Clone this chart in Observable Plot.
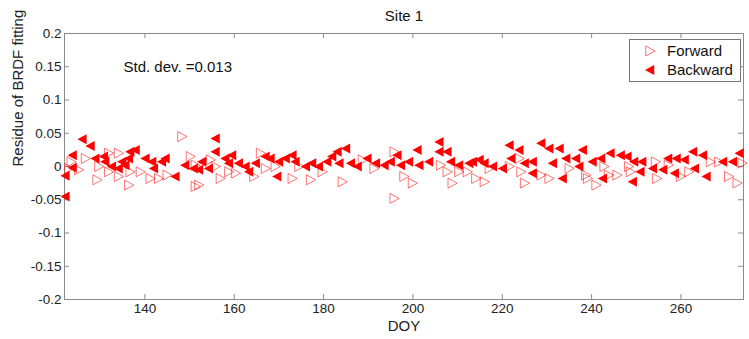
<!DOCTYPE html>
<html><head><meta charset="utf-8">
<script src="https://cdn.jsdelivr.net/npm/d3@7"></script>
<script src="https://cdn.jsdelivr.net/npm/@observablehq/plot@0.6"></script>
<style>body{margin:0;background:#fff;} svg{display:block;}</style>
</head><body><div id="chart"></div>
<script>
const titleText = "Site 1";
const xLabel = "DOY";
const yLabel = "Residue of BRDF fitting";
const stdText = "Std. dev. =0.013";
const seriesNames = ["Forward", "Backward"];
const xTicks = [140, 160, 180, 200, 220, 240, 260];
const yTicks = [-0.2, -0.15, -0.1, -0.05, 0, 0.05, 0.1, 0.15, 0.2];
const xDomain = [122, 274];
const yDomain = [-0.2, 0.2];

const forwardDoy = [123, 123.5, 125.2, 126.7, 129.3, 129.7, 131.9, 131.9, 134.1, 134.1, 136.4, 136.7, 139, 141.2, 143.1, 145, 148.3, 150.2, 151.3, 151.3, 152.1, 154.7, 155.8, 156.9, 158.8, 160.3, 164.4, 165.9, 167, 169.2, 173, 174.5, 177.1, 179.7, 184.2, 188.7, 191.3, 195.8, 195.8, 198, 199.9, 206.2, 207.7, 208.8, 210.3, 212.2, 214.1, 216, 217.1, 221.6, 223.8, 224.2, 225, 228.7, 230.5, 235, 238.7, 239.1, 241, 242.8, 243.8, 245.7, 248.3, 248.7, 254.3, 254.6, 257.2, 259.9, 261.8, 266.6, 268.5, 270.7, 272.6, 273.7];
const forwardRes = [-0.003, 0.007, -0.005, 0.012, -0.02, 0, 0.02, -0.008, 0.02, -0.015, -0.028, -0.008, -0.008, -0.018, -0.018, -0.013, 0.045, 0.015, 0.002, -0.03, -0.028, 0.01, 0, -0.018, -0.008, -0.01, -0.015, 0.02, -0.003, 0, -0.018, 0, -0.02, -0.008, -0.023, 0.01, -0.003, 0.022, -0.048, -0.015, -0.025, 0.002, -0.008, -0.025, -0.008, -0.008, -0.018, -0.023, -0.003, 0, 0.012, -0.008, -0.025, -0.013, -0.018, -0.003, -0.013, -0.018, -0.028, 0, -0.013, -0.013, 0, -0.008, 0.007, -0.018, 0.002, -0.015, -0.008, 0.007, 0.007, -0.015, -0.025, 0.005];

const backwardDoy = [122.2, 122.2, 123.8, 123.8, 126, 127.8, 128.9, 130.8, 131.1, 132.6, 134.1, 134.9, 135.6, 136.4, 136.7, 137.9, 140.1, 141.6, 142, 143.8, 144.6, 146.8, 149, 150.9, 152.1, 152.8, 154.3, 155.8, 155.8, 158, 158.8, 159.5, 161, 162.5, 163.3, 164.8, 167, 168.1, 169.6, 170, 171.5, 173, 173.7, 176, 177.4, 178.9, 180.8, 181.9, 183.1, 183.5, 185, 186.1, 187.6, 189.8, 191.7, 193.6, 195, 196.5, 197.3, 199.1, 201, 201.4, 203.6, 205.9, 205.9, 207.7, 208.5, 210.3, 212.6, 213.4, 214.9, 216, 217.9, 220.1, 221.6, 222, 223.8, 225, 226.8, 226.8, 228.7, 230.5, 231.3, 232.8, 233.5, 234.3, 236.5, 237.2, 238, 240.2, 242.1, 242.5, 244.2, 246.5, 248, 249.2, 249.5, 250.9, 251.3, 253.7, 256, 257.1, 258.6, 259, 260.8, 262.7, 263.1, 264.9, 265.7, 269.4, 271.6, 273.1];
const backwardRes = [-0.045, -0.014, 0.017, -0.002, 0.041, 0.031, 0.012, 0.015, 0.007, 0, -0.003, 0.007, 0.002, 0.012, 0.022, 0.025, 0.012, 0.007, -0.003, 0.007, 0.012, -0.015, 0.002, -0.003, -0.005, 0.007, -0.003, 0.042, 0.022, 0.012, 0.005, 0.017, 0.005, 0, -0.008, 0.005, 0.015, 0.012, -0.015, 0.007, 0.012, 0.017, 0.007, 0, 0.005, 0, 0.007, 0.015, 0.022, 0.005, 0.027, 0.005, 0, 0.012, 0.005, 0.002, 0.007, 0.017, 0.002, 0.007, 0.025, 0.002, 0.007, 0.037, 0.022, 0.022, 0.007, 0.002, 0.005, 0.007, 0.01, 0.005, 0, -0.003, 0.032, 0.012, 0.025, 0.005, 0.007, -0.01, 0.035, 0.027, 0.005, 0.027, -0.018, 0.012, 0.012, 0, 0.025, 0.007, 0.012, -0.018, 0.02, 0.017, 0.015, -0.023, 0.007, -0.008, 0.007, -0.003, -0.005, 0.012, -0.01, 0.012, 0.01, 0.022, -0.003, 0.017, -0.015, 0.007, 0.007, 0.02];

const W = 749, H = 339, mL = 64, mR = 6, mT = 33, mB = 40;
const pw = W - mL - mR, ph = H - mT - mB;
const axisGrey = "#8a8a8a";
const font = "'Liberation Sans', Arial, sans-serif";
const markR = 5;

const forward = forwardDoy.map((d, i) => ({doy: d, res: forwardRes[i]}));
const backward = backwardDoy.map((d, i) => ({doy: d, res: backwardRes[i]}));

function triPath(ctx, r, dir) {
  ctx.moveTo(dir * r, 0);
  ctx.lineTo(-dir * r * 0.85, -r);
  ctx.lineTo(-dir * r * 0.85, r);
  ctx.closePath();
}
const triRight = {draw(ctx, size) { triPath(ctx, Math.sqrt(size / Math.PI), 1); }};
const triLeft = {draw(ctx, size) { triPath(ctx, Math.sqrt(size / Math.PI), -1); }};

const svg = Plot.plot({
  width: W, height: H,
  marginLeft: mL, marginRight: mR, marginTop: mT, marginBottom: mB,
  style: {fontFamily: font, fontSize: "13.5px", color: "#222", background: "#fff"},
  x: {domain: xDomain, ticks: xTicks, tickSize: 0, tickPadding: 4, label: null},
  y: {domain: yDomain, ticks: yTicks, tickSize: 0, tickPadding: 3, label: null, tickFormat: d => String(d)},
  marks: [
    Plot.frame({stroke: axisGrey}),
    Plot.tickY(yTicks, {y: d => d, insetRight: pw - 5, stroke: axisGrey}),
    Plot.tickY(yTicks, {y: d => d, insetLeft: pw - 5, stroke: axisGrey}),
    Plot.tickX(xTicks, {x: d => d, insetTop: ph - 5, stroke: axisGrey}),
    Plot.tickX(xTicks, {x: d => d, insetBottom: ph - 5, stroke: axisGrey}),
    Plot.dot(forward, {x: "doy", y: "res", symbol: triRight, r: markR, fill: "none", stroke: "#ff0000", strokeOpacity: 0.55, strokeWidth: 1}),
    Plot.dot(backward, {x: "doy", y: "res", symbol: triLeft, r: markR, fill: "#ff0000", stroke: "none"}),
    Plot.text([titleText], {text: d => d, frameAnchor: "top", dy: -23, fontSize: 15, fill: "#111"}),
    Plot.text([xLabel], {text: d => d, frameAnchor: "bottom", dy: 31, fontSize: 15, fill: "#222"}),
    Plot.text([yLabel], {text: d => d, frameAnchor: "left", dx: -46, rotate: -90, fontSize: 15, fill: "#222"}),
    Plot.text([stdText], {text: d => d, frameAnchor: "top-left", dx: 59, dy: 28, textAnchor: "start", fontSize: 15, fill: "#111"})
  ]
});

// legend box (MATLAB style, inside top-right corner)
const lg = d3.select(svg).append("g").attr("font-family", font).attr("font-size", 15).attr("text-anchor", "start");
lg.append("rect").attr("x", 629.5).attr("y", 39.5).attr("width", 111).attr("height", 42)
  .attr("fill", "#fff").attr("stroke", "#777");
const legendItems = [
  {name: seriesNames[0], sym: triRight, fill: "none", stroke: "#ff0000", op: 0.55, y: 51},
  {name: seriesNames[1], sym: triLeft, fill: "#ff0000", stroke: "none", op: 1, y: 70}
];
legendItems.forEach(it => {
  lg.append("path").attr("transform", `translate(650,${it.y})`)
    .attr("d", d3.symbol(it.sym, markR * markR * Math.PI)())
    .attr("fill", it.fill).attr("stroke", it.stroke).attr("stroke-opacity", it.op);
  lg.append("text").attr("x", 667).attr("y", it.y).attr("dy", "0.35em").attr("fill", "#111")
    .attr("text-anchor", "start").text(it.name);
});

document.getElementById("chart").appendChild(svg);
</script>
</body></html>
